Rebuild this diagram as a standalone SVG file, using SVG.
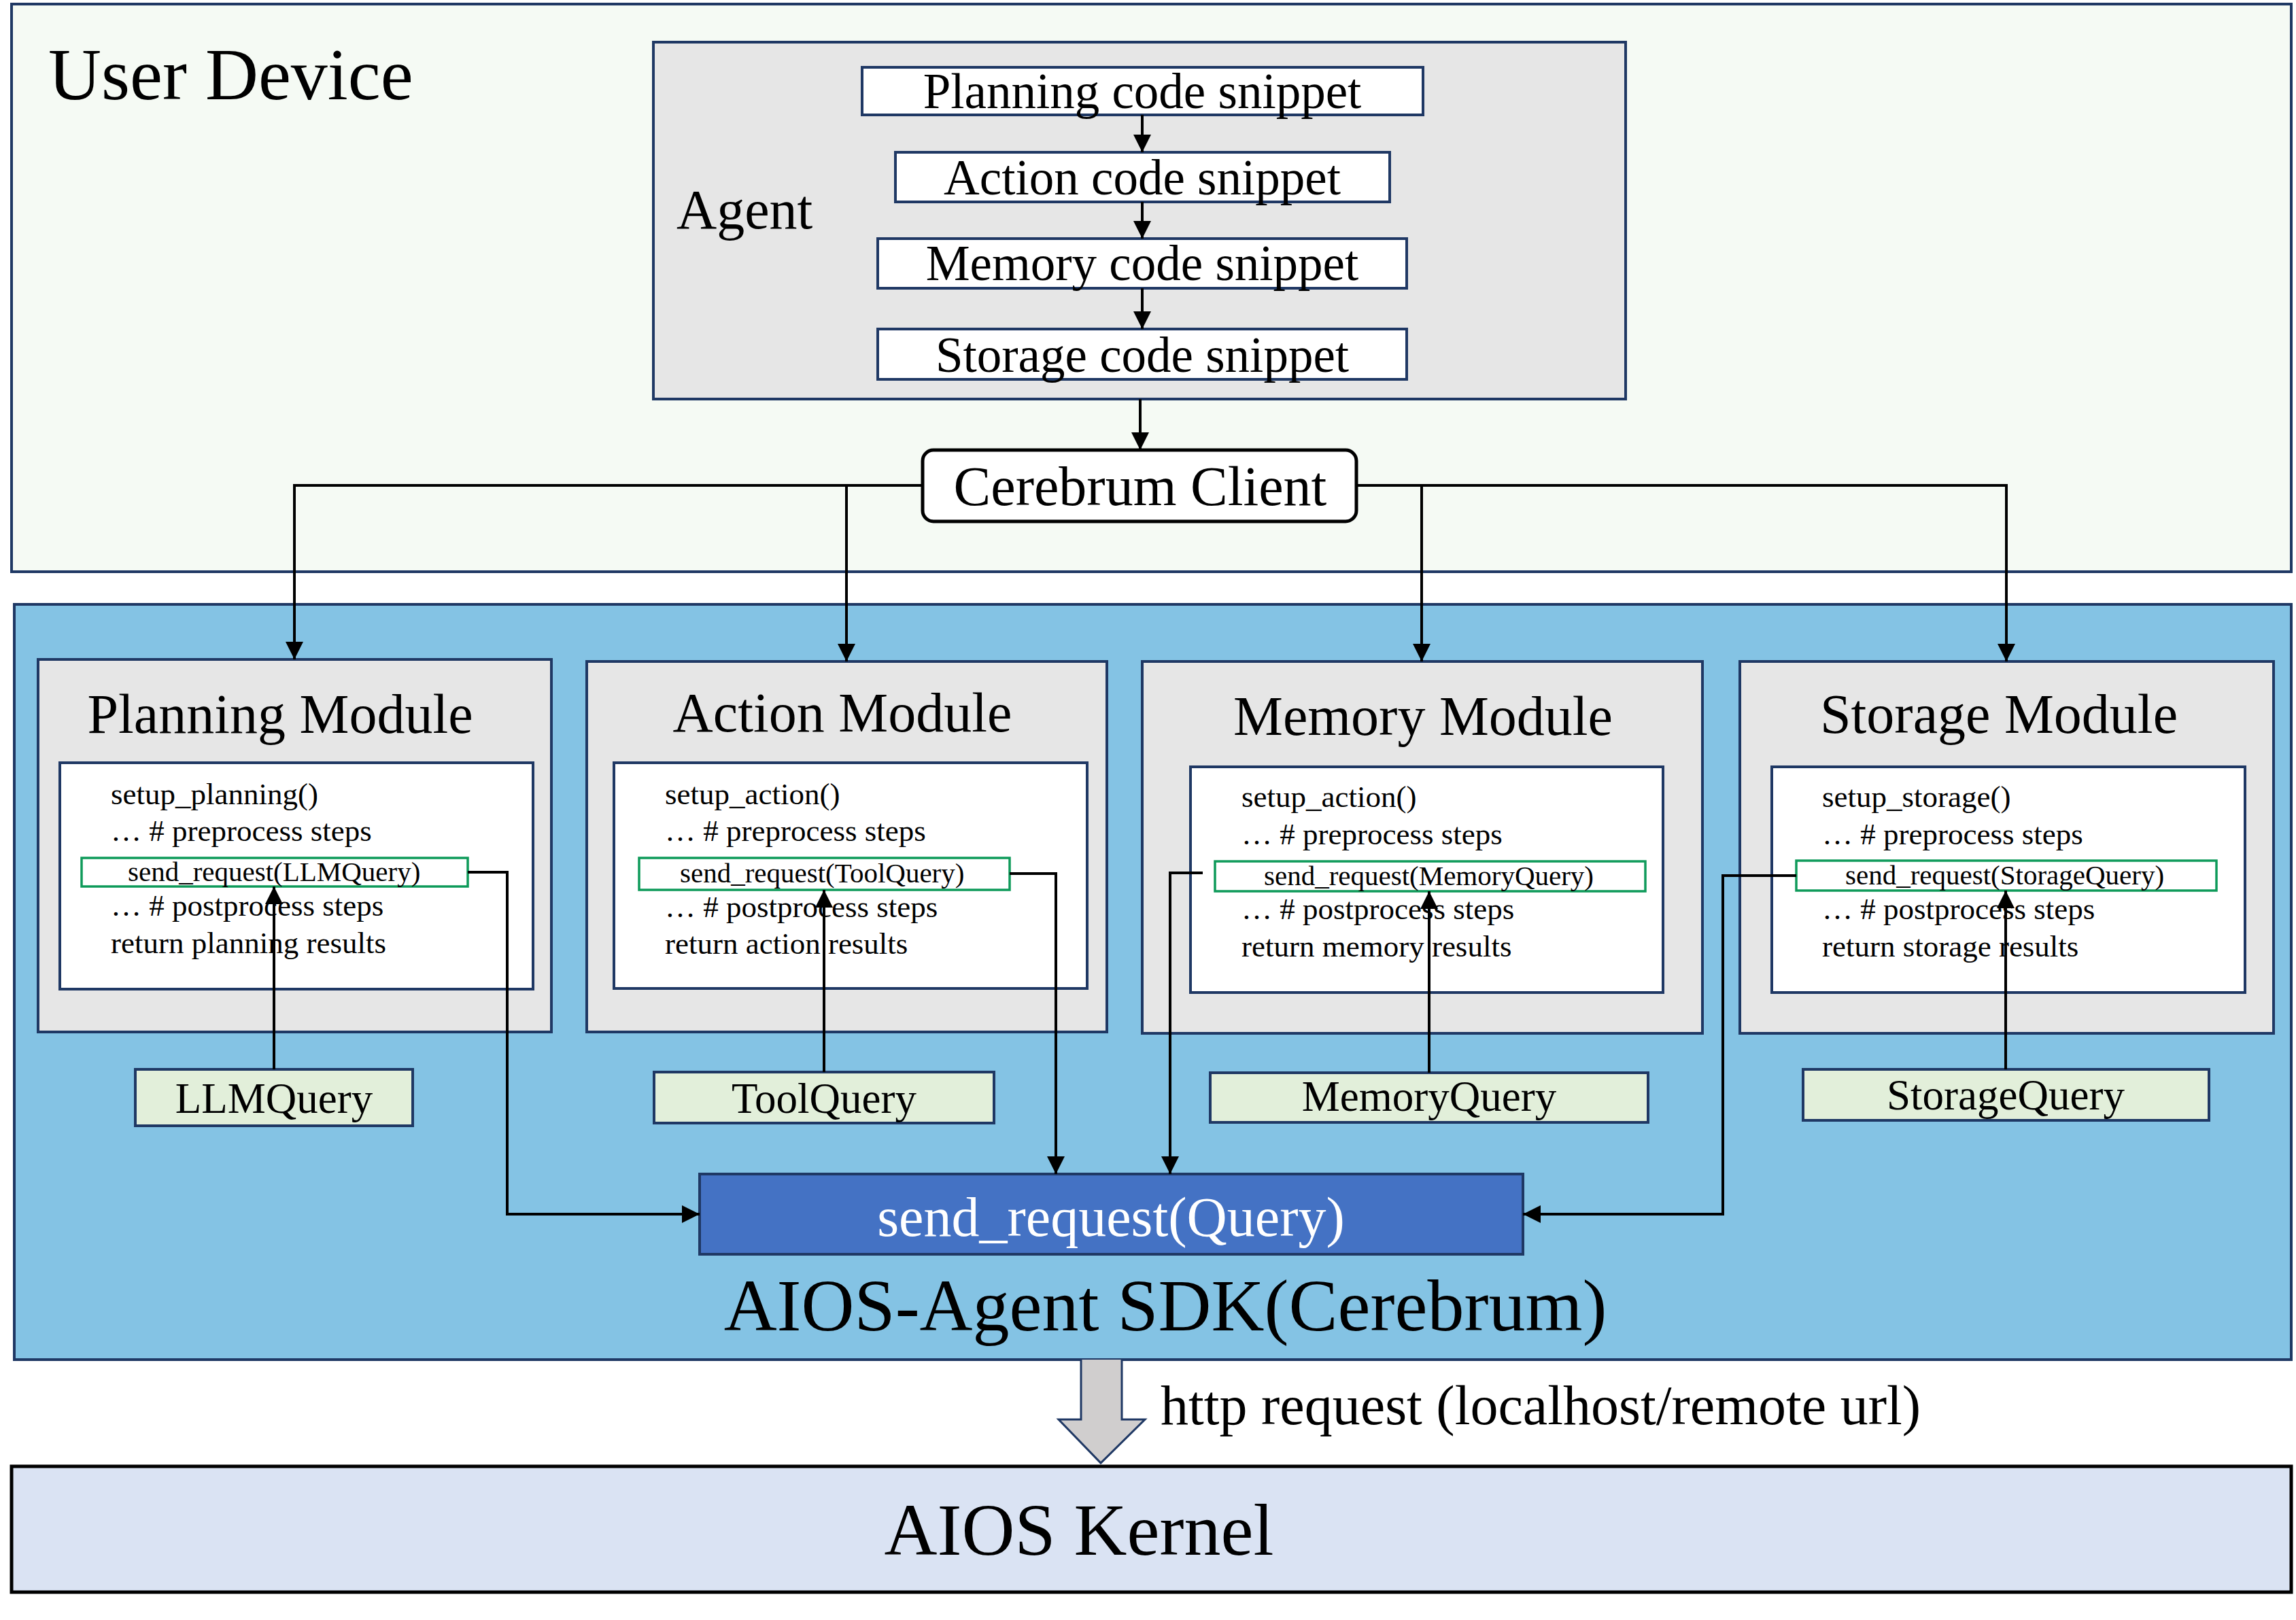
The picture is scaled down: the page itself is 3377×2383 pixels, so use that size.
<svg xmlns="http://www.w3.org/2000/svg" width="3377" height="2383" viewBox="0 0 3377 2383">
<defs>
<style>
text{font-family:"Liberation Serif","Times New Roman",serif;fill:#000}
.nv{stroke:#1f3864;stroke-width:4}
.big{font-size:108px}
.mid{font-size:82px}
.snip{font-size:73px;text-anchor:middle}
.code{font-size:45px}
.send{font-size:41px}
.q{font-size:63px;text-anchor:middle}
.ttl{font-size:82px;text-anchor:middle}
.mod{fill:#e6e6e6}
.wh{fill:#ffffff}
.grn{fill:#ffffff;stroke:#0e9a5a;stroke-width:3.5}
.qb{fill:#e2efda}
.ln{fill:none;stroke:#000;stroke-width:4}
</style>
<marker id="ah" markerUnits="userSpaceOnUse" markerWidth="26" markerHeight="26" refX="26" refY="13" orient="auto">
<path d="M0,0 L26,13 L0,26 z" fill="#000"/>
</marker>
</defs>

<g id="user-device">
<rect x="17" y="6" width="3353" height="835" fill="#f5faf4" class="nv"/>
<text x="71" y="146" class="big">User Device</text>
</g>

<g id="agent">
<rect x="961" y="62" width="1430" height="525" class="mod nv"/>
<text x="995" y="336" class="mid">Agent</text>
</g>

<g id="planning-snippet">
<rect x="1268" y="99" width="825" height="70" class="wh nv"/>
<text x="1680" y="159" class="snip">Planning code snippet</text>
</g>
<g id="action-snippet">
<rect x="1317" y="224" width="727" height="73" class="wh nv"/>
<text x="1680" y="286" class="snip">Action code snippet</text>
</g>
<g id="memory-snippet">
<rect x="1291" y="351" width="778" height="73" class="wh nv"/>
<text x="1680" y="412" class="snip">Memory code snippet</text>
</g>
<g id="storage-snippet">
<rect x="1291" y="484" width="778" height="74" class="wh nv"/>
<text x="1680" y="547" class="snip">Storage code snippet</text>
</g>

<g id="sdk">
<rect x="21" y="889" width="3349" height="1111" fill="#84c3e4" class="nv"/>
<text x="1714" y="1957" class="big" text-anchor="middle">AIOS-Agent SDK(Cerebrum)</text>
</g>

<g id="planning-module">
<rect x="56" y="970" width="755" height="548" class="mod nv"/>
<text x="412" y="1078" class="ttl">Planning Module</text>
<rect x="88" y="1122" width="696" height="333" class="wh nv"/>
<text x="163" y="1183" class="code">setup_planning()</text>
<text x="163" y="1237" class="code">… # preprocess steps</text>
<rect x="120" y="1262" width="568" height="42" class="grn"/>
<text x="188" y="1296" class="send">send_request(LLMQuery)</text>
<text x="163" y="1347" class="code">… # postprocess steps</text>
<text x="163" y="1402" class="code">return planning results</text>
</g>

<g id="action-module">
<rect x="863" y="973" width="765" height="545" class="mod nv"/>
<text x="1239" y="1076" class="ttl">Action Module</text>
<rect x="903" y="1122" width="696" height="332" class="wh nv"/>
<text x="978" y="1183" class="code">setup_action()</text>
<text x="978" y="1237" class="code">… # preprocess steps</text>
<rect x="940" y="1262" width="545" height="47" class="grn"/>
<text x="1000" y="1298" class="send">send_request(ToolQuery)</text>
<text x="978" y="1349" class="code">… # postprocess steps</text>
<text x="978" y="1403" class="code">return action results</text>
</g>

<g id="memory-module">
<rect x="1680" y="973" width="824" height="547" class="mod nv"/>
<text x="2093" y="1081" class="ttl">Memory Module</text>
<rect x="1751" y="1128" width="695" height="332" class="wh nv"/>
<text x="1826" y="1187" class="code">setup_action()</text>
<text x="1826" y="1242" class="code">… # preprocess steps</text>
<rect x="1787" y="1267" width="633" height="44" class="grn"/>
<text x="1859" y="1302" class="send">send_request(MemoryQuery)</text>
<text x="1826" y="1352" class="code">… # postprocess steps</text>
<text x="1826" y="1407" class="code">return memory results</text>
</g>

<g id="storage-module">
<rect x="2559" y="973" width="785" height="547" class="mod nv"/>
<text x="2940" y="1078" class="ttl">Storage Module</text>
<rect x="2606" y="1128" width="696" height="332" class="wh nv"/>
<text x="2680" y="1187" class="code">setup_storage()</text>
<text x="2680" y="1242" class="code">… # preprocess steps</text>
<rect x="2642" y="1266" width="618" height="44" class="grn"/>
<text x="2714" y="1301" class="send">send_request(StorageQuery)</text>
<text x="2680" y="1352" class="code">… # postprocess steps</text>
<text x="2680" y="1407" class="code">return storage results</text>
</g>

<g id="llmquery">
<rect x="199" y="1573" width="408" height="83" class="qb nv"/>
<text x="403" y="1637" class="q">LLMQuery</text>
</g>
<g id="toolquery">
<rect x="962" y="1577" width="500" height="75" class="qb nv"/>
<text x="1212" y="1637" class="q">ToolQuery</text>
</g>
<g id="memoryquery">
<rect x="1780" y="1578" width="644" height="73" class="qb nv"/>
<text x="2102" y="1634" class="q">MemoryQuery</text>
</g>
<g id="storagequery">
<rect x="2652" y="1573" width="597" height="75" class="qb nv"/>
<text x="2950" y="1632" class="q">StorageQuery</text>
</g>

<g id="send-request-query">
<rect x="1029" y="1727" width="1211" height="118" fill="#4472c4" class="nv"/>
<text x="1634" y="1818" class="mid" text-anchor="middle" style="fill:#ffffff">send_request(Query)</text>
</g>

<g id="aios-kernel">
<rect x="17" y="2157" width="3353" height="185" fill="#dae3f3" stroke="#000" stroke-width="5"/>
<text x="1587" y="2287" class="big" text-anchor="middle">AIOS Kernel</text>
</g>

<g id="cerebrum-client">
<rect x="1357" y="662" width="638" height="105" rx="16" fill="#ffffff" stroke="#000" stroke-width="5"/>
<text x="1677" y="743" class="mid" text-anchor="middle">Cerebrum Client</text>
</g>

<g id="connectors">
<line x1="1680" y1="169" x2="1680" y2="224" class="ln" stroke-width="3" marker-end="url(#ah)"/>
<line x1="1680" y1="297" x2="1680" y2="351" class="ln" stroke-width="3" marker-end="url(#ah)"/>
<line x1="1680" y1="424" x2="1680" y2="484" class="ln" stroke-width="3" marker-end="url(#ah)"/>
<line x1="1677" y1="587" x2="1677" y2="662" class="ln" stroke-width="3" marker-end="url(#ah)"/>
<path d="M1357,714 H433 V970" class="ln" marker-end="url(#ah)"/>
<path d="M1245,714 V973" class="ln" marker-end="url(#ah)"/>
<path d="M1995,714 H2951 V973" class="ln" marker-end="url(#ah)"/>
<path d="M2091,714 V973" class="ln" marker-end="url(#ah)"/>
<line x1="403" y1="1573" x2="403" y2="1304" class="ln" marker-end="url(#ah)"/>
<line x1="1212" y1="1577" x2="1212" y2="1309" class="ln" marker-end="url(#ah)"/>
<line x1="2102" y1="1578" x2="2102" y2="1311" class="ln" marker-end="url(#ah)"/>
<line x1="2950" y1="1573" x2="2950" y2="1310" class="ln" marker-end="url(#ah)"/>
<path d="M688,1283 H746 V1786 H1029" class="ln" marker-end="url(#ah)"/>
<path d="M1485,1285 H1553 V1727" class="ln" marker-end="url(#ah)"/>
<path d="M1769,1284 H1721 V1727" class="ln" marker-end="url(#ah)"/>
<path d="M2642,1288 H2534 V1786 H2240" class="ln" marker-end="url(#ah)"/>
<path d="M1590,2000 V2088 H1557 L1619,2152 L1684,2088 H1650 V2000" fill="#d0cece" stroke="#1f3864" stroke-width="3"/>
<text x="1707" y="2095" class="mid">http request (localhost/remote url)</text>
</g>
</svg>
